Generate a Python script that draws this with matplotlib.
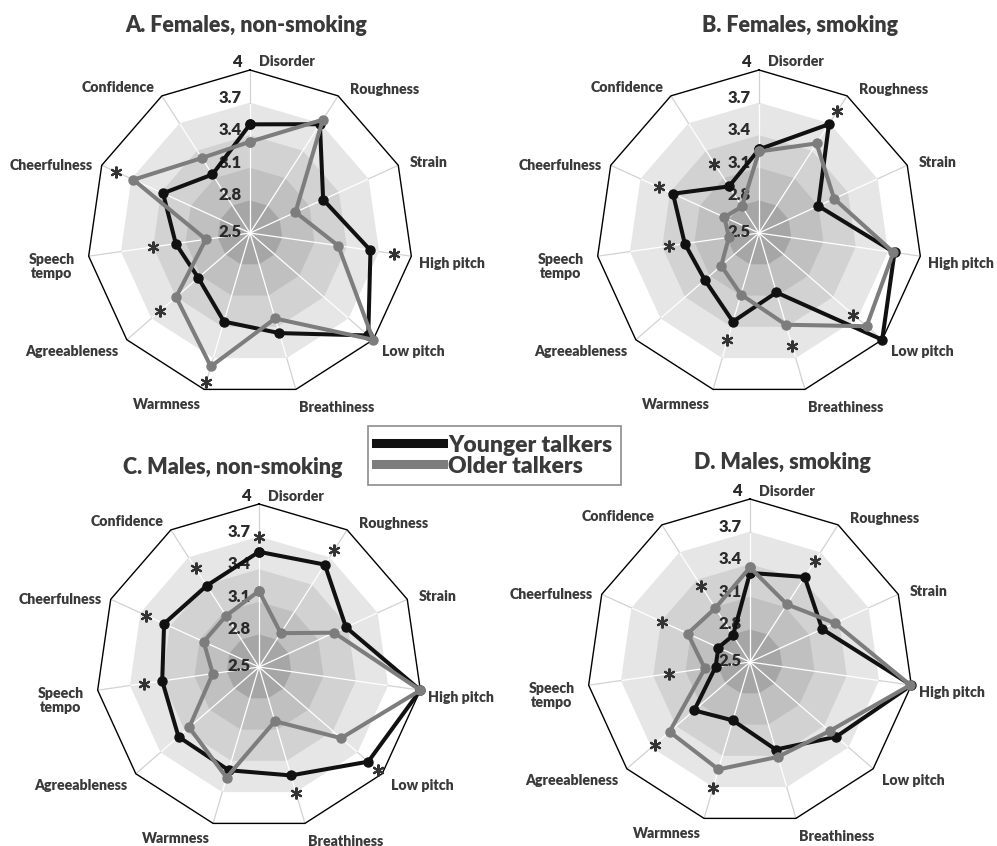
import numpy as np
import matplotlib.pyplot as plt
from matplotlib.lines import Line2D

plt.rcParams['font.family'] = ['Lato', 'DejaVu Sans']

categories = ['Disorder', 'Roughness', 'Strain', 'High pitch', 'Low pitch',
              'Breathiness', 'Warmness', 'Agreeableness', 'Speech\ntempo',
              'Cheerfulness', 'Confidence']
ring_values = [2.5, 2.8, 3.1, 3.4, 3.7, 4.0]
ring_labels = ['2.5', '2.8', '3.1', '3.4', '3.7', '4']

titles = ['A. Females, non-smoking', 'B. Females, smoking',
          'C. Males, non-smoking', 'D. Males, smoking']

young_a = [3.50, 3.69, 3.24, 3.62, 3.94, 3.46, 3.35, 3.13, 3.19, 3.38, 3.14]
older_a = [3.34, 3.74, 2.96, 3.32, 4.00, 3.32, 3.78, 3.40, 2.91, 3.68, 3.32]
young_b = [3.27, 3.69, 3.10, 3.76, 4.00, 3.07, 3.35, 3.16, 3.19, 3.37, 3.01]
older_b = [3.25, 3.48, 3.26, 3.75, 3.81, 3.38, 3.09, 2.96, 2.78, 2.85, 2.79]
young_c = [3.56, 3.62, 3.38, 4.00, 3.83, 3.54, 3.49, 3.48, 3.40, 3.46, 3.39]
older_c = [3.20, 2.87, 3.26, 4.00, 3.50, 3.02, 3.56, 3.35, 2.93, 3.06, 3.06]
young_d = [3.32, 3.43, 3.23, 4.00, 3.55, 3.34, 3.06, 3.18, 2.82, 2.82, 2.79]
older_d = [3.37, 3.13, 3.36, 3.99, 3.47, 3.41, 3.53, 3.48, 2.92, 3.13, 3.09]

# significance asterisks: (category index, radial position)
stars_a = [(3, 3.84), (9, 3.86), (8, 3.40), (7, 3.60), (6, 3.93)]
stars_b = [(1, 3.83), (10, 3.26), (9, 3.51), (8, 3.34), (6, 3.53), (5, 3.58), (4, 3.65)]
stars_c = [(0, 3.70), (1, 3.78), (10, 3.58), (9, 3.64), (8, 3.57), (4, 3.95), (5, 3.71)]
stars_d = [(1, 3.60), (10, 3.33), (9, 3.39), (8, 3.25), (7, 3.66), (6, 3.71)]

W, H = 997, 846
R = 163
centers = [(250, 233), (759, 233), (259, 667), (750, 662)]
title_pos = [(246, 25), (800, 25), (233, 467), (782, 462)]

# label offsets in pixels from each outer vertex (dx, dy up, ha)
label_offsets = [(9, 8, 'left'), (12, 6, 'left'), (11, 3, 'left'), (8, -7, 'left'),
                 (9, -12, 'left'), (3, -18, 'left'), (-3, -15, 'right'),
                 (-9, -12, 'right'), (-37, -10, 'center'), (-9, 0, 'right'),
                 (-7, 8, 'right')]
ring_fills = ['#e6e6e6', '#d2d2d2', '#c0c0c0', '#a6a6a6']
YOUNG = '#111111'
OLD = '#7d7d7d'
TXT = '#3a3a3a'
WEIGHT = 'heavy'
px = 72 / 100.0

n = len(categories)
theta = np.arange(n) * 2 * np.pi / n
theta_c = np.append(theta, theta[0])


def closed(v):
    return np.append(v, v[0])


def radar(ax, young, older, stars):
    ax.set_theta_zero_location('N')
    ax.set_theta_direction(-1)
    ax.set_ylim(2.5, 4.0)
    ax.set_axis_off()

    # shaded rings, outside in
    for lev, col in zip(ring_values[4:0:-1], ring_fills):
        ax.fill(theta_c, np.full(n + 1, lev), color=col, lw=0, zorder=1)
    for t in theta:
        ax.plot([t, t], [2.5, 3.7], color='white', lw=0.9, zorder=2)
        ax.plot([t, t], [3.7, 4.0], color='#d2d2d2', lw=0.9, zorder=2)
    ax.plot(theta_c, np.full(n + 1, 4.0), color='black', lw=1.0, zorder=3,
            clip_on=False)

    for v, lab in zip(ring_values, ring_labels):
        dy = 5
        if v == 2.5:
            dy = 1
        if v == 4.0:
            dy = 8
        ax.annotate(lab, xy=(0, v), xytext=(-8 * px, dy * px),
                    textcoords='offset points', ha='right', va='center',
                    fontsize=12, fontweight=WEIGHT, color='#2a2a2a', zorder=4)

    for t, lab, (dx, dy, ha) in zip(theta, categories, label_offsets):
        ax.annotate(lab, xy=(t, 4.0), xytext=(dx * px, dy * px),
                    textcoords='offset points', ha=ha, va='center',
                    multialignment='center', linespacing=1.1,
                    fontsize=10.2, fontweight=WEIGHT, color=TXT,
                    annotation_clip=False)

    ax.plot(theta_c, closed(young), color=YOUNG, lw=2.9, marker='o', ms=6.5,
            zorder=5, clip_on=False)
    ax.plot(theta_c, closed(older), color=OLD, lw=2.9, marker='o', ms=6.5,
            zorder=6, clip_on=False)

    for idx, r in stars:
        ax.plot(theta[idx], r, marker=(6, 2, 0), ms=8.5, mew=1.5,
                color='#333333', zorder=7, clip_on=False)


fig = plt.figure(figsize=(W / 100, H / 100), dpi=100)
panels = [(young_a, older_a, stars_a), (young_b, older_b, stars_b),
          (young_c, older_c, stars_c), (young_d, older_d, stars_d)]
for (cx, cy), (tx, ty), title, (yv, ov, st) in zip(centers, title_pos, titles, panels):
    ax = fig.add_axes([(cx - R) / W, 1 - (cy + R) / H, 2 * R / W, 2 * R / H],
                      projection='polar')
    radar(ax, yv, ov, st)
    fig.text(tx / W, 1 - ty / H, title, ha='center', va='center',
             fontsize=15.5, fontweight=WEIGHT, color=TXT)

handles = [Line2D([], [], color=YOUNG, lw=6.5), Line2D([], [], color=OLD, lw=6.5)]
leg = fig.legend(handles, ['Younger talkers', 'Older talkers'], loc='center',
                 bbox_to_anchor=(494.5 / W, 1 - 455.5 / H), frameon=True,
                 fancybox=False, handlelength=2.9, handletextpad=0.25,
                 labelspacing=0.0, borderpad=0.35,
                 prop={'size': 16.5, 'weight': WEIGHT})
leg.get_frame().set_edgecolor('#707070')
leg.get_frame().set_linewidth(1.2)
for t in leg.get_texts():
    t.set_color(TXT)

fig.savefig('out.png', dpi=100)
